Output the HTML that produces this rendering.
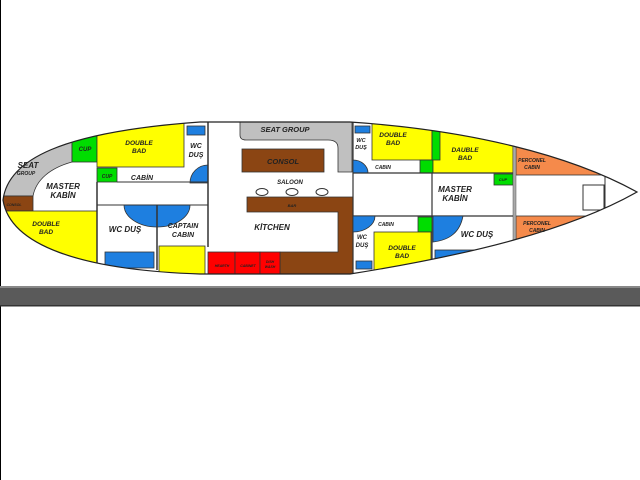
<!DOCTYPE html>
<html><head><meta charset="utf-8"><style>
html,body{margin:0;padding:0;background:#fff;}
svg{display:block;}
text{font-family:"Liberation Sans",sans-serif;font-weight:bold;font-style:italic;fill:#222;}
</style></head><body>
<svg width="640" height="480" viewBox="0 0 640 480" xmlns="http://www.w3.org/2000/svg">
<defs>
<clipPath id="hull"><path d="M3,200 C8,160 60,132 200,122 L350,122 C470,130 570,155 637,192 C570,230 470,255 350,274 L200,274 C80,270 10,245 3,200 Z"/></clipPath>
</defs>
<rect x="0" y="0" width="640" height="480" fill="#fff"/>
<line x1="0.5" y1="0" x2="0.5" y2="480" stroke="#000" stroke-width="1"/>
<g clip-path="url(#hull)">
<path d="M0,120 L72,120 L72,162 C50,168 36,180 33,196 L0,196 Z" fill="#c0c0c0" stroke="#333" stroke-width="0.8"/>
<rect x="0" y="196" width="33" height="15" fill="#8b4513" stroke="#333" stroke-width="0.8"/>
<rect x="0" y="211" width="97" height="70" fill="#ffff00" stroke="#333" stroke-width="0.8"/>
<rect x="72" y="120" width="25" height="42" fill="#00dd00" stroke="#333" stroke-width="0.8"/>
<rect x="97" y="120" width="87" height="47" fill="#ffff00" stroke="#333" stroke-width="0.8"/>
<rect x="97" y="168" width="20" height="14" fill="#00dd00" stroke="#333" stroke-width="0.8"/>
<rect x="105" y="252" width="49" height="16" fill="#1e7fe0" stroke="#333" stroke-width="0.8"/>
<rect x="159" y="246" width="46" height="40" fill="#ffff00" stroke="#333" stroke-width="0.8"/>
<rect x="187" y="126" width="18" height="9" fill="#1e7fe0" stroke="#333" stroke-width="0.8"/>
<path d="M208,165 A18,18 0 0 0 190,183 L208,183 Z" fill="#1e7fe0" stroke="#333" stroke-width="0.8"/>
<path d="M124,205 A33,22 0 0 0 190,205 Z" fill="#1e7fe0" stroke="#333" stroke-width="0.8"/>
<line x1="208" y1="120" x2="208" y2="247" stroke="#333" stroke-width="1.5"/>
<line x1="157" y1="205" x2="157" y2="270" stroke="#333" stroke-width="1.5"/>
<line x1="97" y1="182" x2="97" y2="290" stroke="#333" stroke-width="1.5"/>
<line x1="117" y1="182" x2="208" y2="182" stroke="#333" stroke-width="1"/>
<line x1="97" y1="205" x2="208" y2="205" stroke="#333" stroke-width="1"/>
<path d="M240,122 L352,122 L352,172 L338,172 L338,148 C338,142 334,140 328,140 L246,140 C242,140 240,138 240,135 Z" fill="#c0c0c0" stroke="#333" stroke-width="0.8"/>
<rect x="242" y="149" width="82" height="23" fill="#8b4513" stroke="#333" stroke-width="0.8"/>
<path d="M247,197 L353,197 L353,280 L280,280 L280,252 L338,252 L338,212 L247,212 Z" fill="#8b4513" stroke="#333" stroke-width="0.8"/>
<rect x="208" y="252" width="27" height="28" fill="#ff0000" stroke="#333" stroke-width="0.8"/>
<rect x="235" y="252" width="25" height="28" fill="#ff0000" stroke="#333" stroke-width="0.8"/>
<rect x="260" y="252" width="20" height="28" fill="#ff0000" stroke="#333" stroke-width="0.8"/>
<ellipse cx="262" cy="192" rx="6" ry="3.5" fill="#fff" stroke="#333"/>
<ellipse cx="292" cy="192" rx="6" ry="3.5" fill="#fff" stroke="#333"/>
<ellipse cx="322" cy="192" rx="6" ry="3.5" fill="#fff" stroke="#333"/>
<line x1="353" y1="120" x2="353" y2="280" stroke="#333" stroke-width="1.2"/>
<rect x="355" y="126" width="15" height="7" fill="#1e7fe0" stroke="#333" stroke-width="0.8"/>
<path d="M353,160 A15,13 0 0 1 368,173 L353,173 Z" fill="#1e7fe0" stroke="#333" stroke-width="0.8"/>
<rect x="372" y="120" width="60" height="40" fill="#ffff00" stroke="#333" stroke-width="0.8"/>
<rect x="420" y="160" width="13" height="13" fill="#00dd00" stroke="#333" stroke-width="0.8"/>
<rect x="433" y="120" width="80" height="53" fill="#ffff00" stroke="#333" stroke-width="0.8"/>
<rect x="432" y="130" width="8" height="30" fill="#00dd00" stroke="#333" stroke-width="0.8"/>
<rect x="494" y="174" width="19" height="11" fill="#00dd00" stroke="#333" stroke-width="0.8"/>
<rect x="516" y="120" width="130" height="55" fill="#f58a4b" stroke="#333" stroke-width="0.8"/>
<rect x="516" y="216" width="130" height="60" fill="#f58a4b" stroke="#333" stroke-width="0.8"/>
<line x1="605" y1="175" x2="605" y2="216" stroke="#333" stroke-width="1"/>
<rect x="513" y="143" width="3" height="107" fill="#aaa" stroke="#555" stroke-width="0.5"/>
<line x1="353" y1="173" x2="513" y2="173" stroke="#333" stroke-width="1.2"/>
<line x1="353" y1="216" x2="513" y2="216" stroke="#333" stroke-width="1.2"/>
<line x1="432" y1="173" x2="432" y2="275" stroke="#333" stroke-width="1.2"/>
<rect x="583" y="185" width="21" height="25" fill="#fff" stroke="#333" stroke-width="1"/>
<path d="M353,216 L375,216 A22,16 0 0 1 353,232 Z" fill="#1e7fe0" stroke="#333" stroke-width="0.8"/>
<rect x="356" y="261" width="16" height="8" fill="#1e7fe0" stroke="#333" stroke-width="0.8"/>
<rect x="418" y="217" width="14" height="15" fill="#00dd00" stroke="#333" stroke-width="0.8"/>
<rect x="374" y="232" width="57" height="45" fill="#ffff00" stroke="#333" stroke-width="0.8"/>
<path d="M433,216 L463,216 C460,232 450,240 433,242 Z" fill="#1e7fe0" stroke="#333" stroke-width="0.8"/>
<rect x="435" y="250" width="80" height="20" fill="#1e7fe0" stroke="#333" stroke-width="0.8"/>
</g>
<path d="M3,200 C8,160 60,132 200,122 L350,122 C470,130 570,155 637,192 C570,230 470,255 350,274 L200,274 C80,270 10,245 3,200 Z" fill="none" stroke="#222" stroke-width="1.2"/>
<g text-anchor="middle">
<text x="28" y="168" font-size="8">SEAT</text>
<text x="26" y="175" font-size="5" font-weight="normal">GROUP</text>
<text x="14" y="206" font-size="3.5" font-weight="normal">CONSOL</text>
<text x="85" y="151" font-size="6">CUP</text>
<text x="107" y="178" font-size="5">CUP</text>
<text x="139" y="145" font-size="6.5">DOUBLE</text>
<text x="139" y="153" font-size="6.5">BAD</text>
<text x="142" y="180" font-size="7">CABİN</text>
<text x="196" y="148" font-size="7">WC</text>
<text x="196" y="157" font-size="7">DUŞ</text>
<text x="63" y="189" font-size="8">MASTER</text>
<text x="63" y="198" font-size="8">KABİN</text>
<text x="46" y="226" font-size="6.5">DOUBLE</text>
<text x="46" y="234" font-size="6.5">BAD</text>
<text x="125" y="232" font-size="8">WC DUŞ</text>
<text x="183" y="228" font-size="7">CAPTAIN</text>
<text x="183" y="237" font-size="7">CABIN</text>
<text x="285" y="132" font-size="7.5">SEAT GROUP</text>
<text x="283" y="164" font-size="7.5">CONSOL</text>
<text x="290" y="184" font-size="6">SALOON</text>
<text x="292" y="207" font-size="4">BAR</text>
<text x="272" y="230" font-size="8">KİTCHEN</text>
<text x="222" y="267" font-size="3.5" font-weight="normal">HEARTH</text>
<text x="248" y="267" font-size="3.5" font-weight="normal">CABINET</text>
<text x="270" y="263" font-size="3.5" font-weight="normal">DISH</text>
<text x="270" y="268" font-size="3.5" font-weight="normal">WASH</text>
<text x="361" y="142" font-size="5.5" font-weight="normal">WC</text>
<text x="361" y="149" font-size="5.5" font-weight="normal">DUŞ</text>
<text x="393" y="137" font-size="6.5">DOUBLE</text>
<text x="393" y="145" font-size="6.5">BAD</text>
<text x="465" y="152" font-size="6.5">DAUBLE</text>
<text x="465" y="160" font-size="6.5">BAD</text>
<text x="383" y="169" font-size="5" font-weight="normal">CABIN</text>
<text x="503" y="181" font-size="4">CUP</text>
<text x="455" y="192" font-size="8">MASTER</text>
<text x="455" y="201" font-size="8">KABİN</text>
<text x="386" y="226" font-size="5" font-weight="normal">CABIN</text>
<text x="362" y="239" font-size="6" font-weight="normal">WC</text>
<text x="362" y="247" font-size="6" font-weight="normal">DUŞ</text>
<text x="402" y="250" font-size="6.5">DOUBLE</text>
<text x="402" y="258" font-size="6.5">BAD</text>
<text x="477" y="237" font-size="8">WC DUŞ</text>
<text x="532" y="162" font-size="5" font-weight="normal">PERCONEL</text>
<text x="532" y="169" font-size="5" font-weight="normal">CABIN</text>
<text x="537" y="225" font-size="5" font-weight="normal">PERCONEL</text>
<text x="537" y="232" font-size="5" font-weight="normal">CABIN</text>
</g>
<rect x="0" y="286" width="640" height="20" fill="#5a5a5a"/>
<rect x="0" y="286" width="640" height="2" fill="#888"/>
<rect x="0" y="305" width="640" height="1.5" fill="#333"/>
</svg>
</body></html>
